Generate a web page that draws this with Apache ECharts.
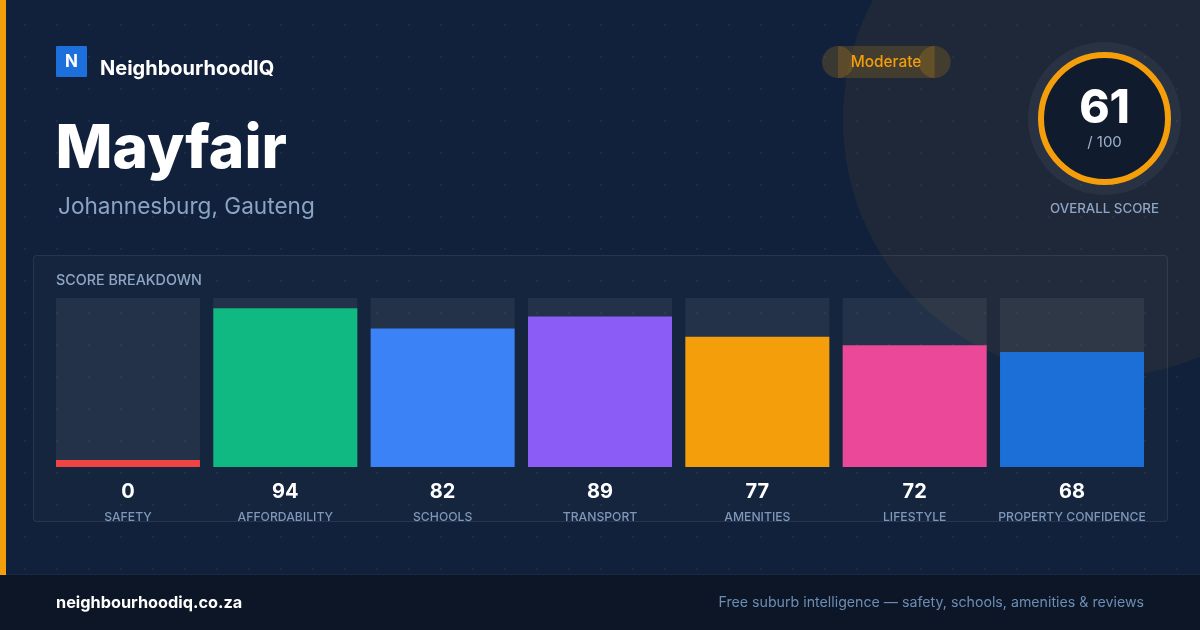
<!DOCTYPE html>
<html>
<head>
<meta charset="utf-8">
<script src="https://cdn.jsdelivr.net/npm/echarts@6/dist/echarts.min.js"></script>
<style>
  html, body { margin: 0; padding: 0; }
  body {
    width: 1200px; height: 630px; overflow: hidden;
    background-color: #12213b;
    background-image: radial-gradient(circle, rgba(255,255,255,0.05) 1px, transparent 1.6px);
    background-size: 32px 32px;
    background-position: 9px 9px;
  }
  #chart { width: 1200px; height: 630px; }
</style>
</head>
<body>
<div id="chart"></div>
<script>
// ---- Data ----
const brandName = "NeighbourhoodIQ";
const suburb = "Mayfair";
const region = "Johannesburg, Gauteng";
const ratingLabel = "Moderate";
const overallScore = 61;
const overallMax = 100;
const categories = ["SAFETY", "AFFORDABILITY", "SCHOOLS", "TRANSPORT", "AMENITIES", "LIFESTYLE", "PROPERTY CONFIDENCE"];
const scores = [0, 94, 82, 89, 77, 72, 68];
const barColors = ["#ef4444", "#10b981", "#3b82f6", "#8b5cf6", "#f59e0b", "#ec4899", "#1d6fd8"];
const footerLeft = "neighbourhoodiq.co.za";
const footerRight = "Free suburb intelligence \u2014 safety, schools, amenities & reviews";

const FONT = "Inter, 'Noto Sans', sans-serif";
const chart = echarts.init(document.getElementById('chart'), null, { renderer: 'canvas' });

function txt(x, y, text, fill, font, align) {
  return { type: 'text', z: 10, style: { x: x, y: y, text: text, fill: fill, font: font, align: align || 'left', textAlign: align || 'left', verticalAlign: 'middle', textVerticalAlign: 'middle' } };
}

const option = {
  backgroundColor: 'transparent',
  animation: false,
  grid: { left: 49.3, right: 49.3, top: 298, height: 169 },
  xAxis: {
    type: 'category',
    data: categories,
    axisLine: { show: false },
    axisTick: { show: false },
    axisLabel: {
      interval: 0,
      margin: 12,
      formatter: function (name, idx) {
        return '{v|' + scores[idx] + '}\n{n|' + name + '}';
      },
      rich: {
        v: { fontFamily: FONT, fontSize: 20, fontWeight: 700, color: '#ffffff', lineHeight: 26 },
        n: { fontFamily: FONT, fontSize: 12.2, fontWeight: 500, color: '#7b96b8', lineHeight: 24 }
      }
    }
  },
  yAxis: { type: 'value', min: 0, max: 100, show: false, splitLine: { show: false } },
  graphic: [
    // decorative large circle
    { type: 'circle', z: 0, silent: true, shape: { cx: 1100, cy: 120, r: 257 }, style: { fill: 'rgba(245,158,11,0.055)' } },
    // left stripe
    { type: 'rect', z: 0, shape: { x: 0, y: 0, width: 6, height: 575 }, style: { fill: '#f59e0b' } },
    // footer
    { type: 'rect', z: 0, shape: { x: 0, y: 575, width: 1200, height: 55 }, style: { fill: '#0c1626' } },
    { type: 'rect', z: 0, shape: { x: 0, y: 574, width: 1200, height: 1 }, style: { fill: 'rgba(255,255,255,0.04)' } },
    txt(56, 603, footerLeft, '#ffffff', '700 16.3px ' + FONT),
    txt(1144, 602.5, footerRight, '#6d8db5', '400 14.2px ' + FONT, 'right'),
    // logo
    { type: 'rect', z: 5, shape: { x: 56, y: 46, width: 31, height: 31, r: 1 }, style: { fill: '#1d6fdc' } },
    txt(71.5, 62, 'N', '#ffffff', '700 17px ' + FONT, 'center'),
    txt(100, 68.5, brandName, '#ffffff', '700 20px ' + FONT),
    // title
    txt(55.5, 149.5, suburb, '#ffffff', '800 60.5px ' + FONT),
    txt(58, 207.5, region, '#8aa4c4', '400 22.6px ' + FONT),
    // rating pill
    { type: 'circle', z: 5, shape: { cx: 838, cy: 62, r: 16 }, style: { fill: 'rgba(245,158,11,0.18)' } },
    { type: 'circle', z: 5, shape: { cx: 934.7, cy: 62, r: 16 }, style: { fill: 'rgba(245,158,11,0.18)' } },
    { type: 'rect', z: 5, shape: { x: 838, y: 46, width: 96.7, height: 32 }, style: { fill: 'rgba(245,158,11,0.18)' } },
    txt(886, 62, ratingLabel, '#f59e0b', '500 15.4px ' + FONT, 'center'),
    // overall score ring
    { type: 'circle', z: 5, shape: { cx: 1104.5, cy: 118.5, r: 76.5 }, style: { fill: 'rgba(255,255,255,0.05)' } },
    { type: 'circle', z: 6, shape: { cx: 1104.5, cy: 118.5, r: 63.5 }, style: { fill: '#111b2e', stroke: '#f59e0b', lineWidth: 6 } },
    txt(1104.5, 109.5, String(overallScore), '#ffffff', '800 46px ' + FONT, 'center'),
    txt(1104.5, 142, '/ ' + overallMax, '#9fb3cc', '400 15px ' + FONT, 'center'),
    txt(1104.5, 209, 'OVERALL SCORE', '#8ea6c4', '500 13.3px ' + FONT, 'center'),
    // breakdown panel
    { type: 'rect', z: 1, shape: { x: 33.5, y: 255.5, width: 1134, height: 266, r: 3 }, style: { fill: 'rgba(255,255,255,0.02)', stroke: 'rgba(255,255,255,0.09)', lineWidth: 1 } },
    txt(56, 280.5, 'SCORE BREAKDOWN', '#8ea6c4', '500 14.3px ' + FONT)
  ],
  series: [{
    type: 'bar',
    z: 3,
    data: scores.map(function (v, i) { return { value: v, itemStyle: { color: barColors[i] } }; }),
    barWidth: 144,
    barMinHeight: 7,
    showBackground: true,
    backgroundStyle: { color: 'rgba(255,255,255,0.06)' },
    label: { show: false }
  }]
};

chart.setOption(option);
</script>
</body>
</html>
